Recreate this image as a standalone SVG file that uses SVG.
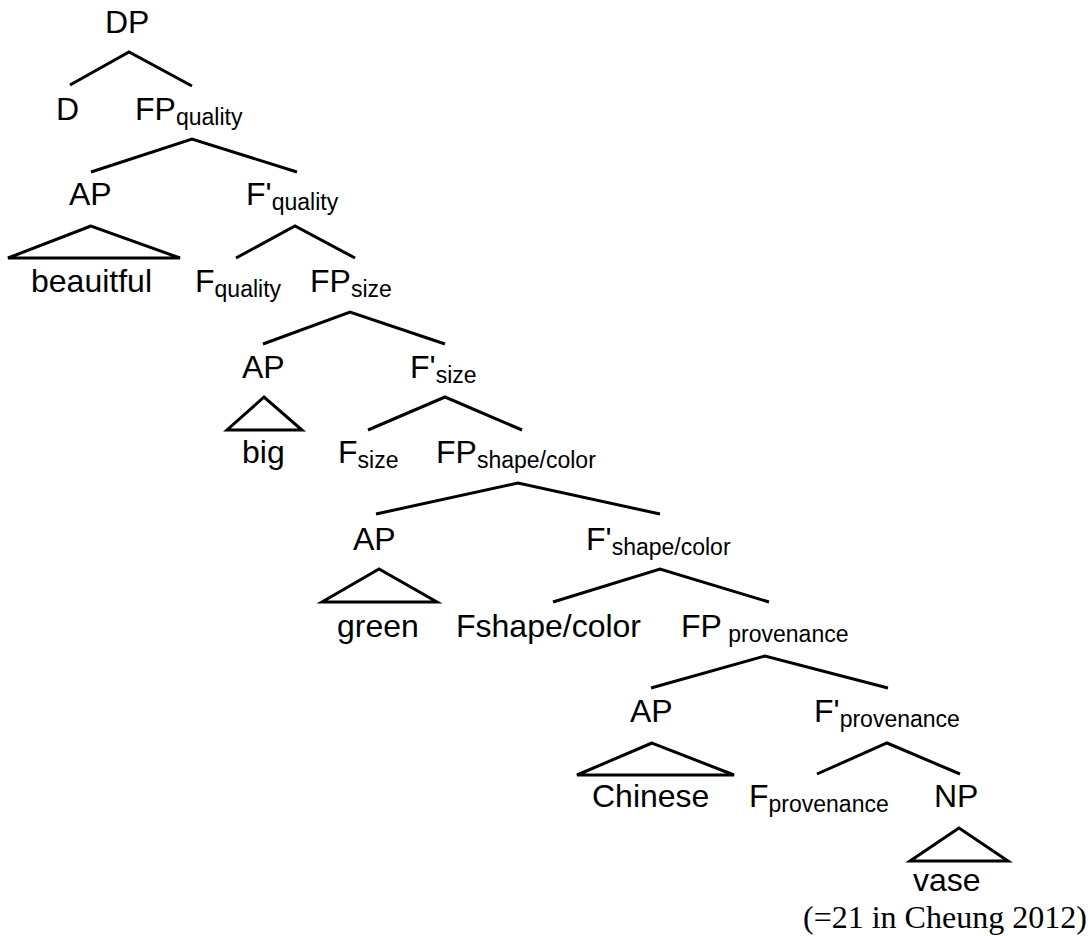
<svg xmlns="http://www.w3.org/2000/svg" width="1092" height="936" viewBox="0 0 1092 936">
<style>
.lbl{font-family:"Liberation Sans",Arial,sans-serif;font-size:32px;fill:#000}
.sub{font-size:23px}
.cite{font-family:"Liberation Serif","Times New Roman",serif;font-size:32px;fill:#000}
.edge{stroke:#000;stroke-width:3;fill:none;stroke-linecap:butt}
.tri{stroke:#000;stroke-width:3;fill:none;stroke-linejoin:miter}
</style>
<rect width="1092" height="936" fill="#fff"/>
<g id="connectors">
<path class="edge" d="M70,85 L129,52 L192,86"/>
<path class="edge" d="M91,172 L192,139 L297,172"/>
<path class="edge" d="M236,258 L295,226 L355,258"/>
<path class="edge" d="M263,344 L350,312 L445,344"/>
<path class="edge" d="M368,430 L445,397 L522,430"/>
<path class="edge" d="M376,514 L518,483 L660,514"/>
<path class="edge" d="M553,602 L660,569 L769,602"/>
<path class="edge" d="M651,688 L765,656 L888,688"/>
<path class="edge" d="M817,774 L887,743 L960,774"/>
</g>
<g id="n-DP"><text class="lbl" x="105" y="33">DP</text></g>
<g id="n-D"><text class="lbl" x="56" y="120">D</text></g>
<g id="n-FPquality"><text class="lbl" x="135" y="120">FP<tspan class="sub" dy="5">quality</tspan></text></g>
<g id="n-AP1"><text class="lbl" x="69" y="205">AP</text></g>
<g id="n-Fbarquality"><text class="lbl" x="246" y="205">F'<tspan class="sub" dy="5">quality</tspan></text></g>
<g id="n-beautiful"><polygon class="tri" points="91,226 8,258 180,258"/><text class="lbl" x="31" y="292">beauitful</text></g>
<g id="n-Fquality"><text class="lbl" x="195" y="292">F<tspan class="sub" dy="5">quality</tspan></text></g>
<g id="n-FPsize"><text class="lbl" x="310" y="292">FP<tspan class="sub" dy="5">size</tspan></text></g>
<g id="n-AP2"><text class="lbl" x="242" y="378">AP</text></g>
<g id="n-Fbarsize"><text class="lbl" x="410" y="378">F'<tspan class="sub" dy="5">size</tspan></text></g>
<g id="n-big"><polygon class="tri" points="264,397 227,430 302,430"/><text class="lbl" x="242" y="463">big</text></g>
<g id="n-Fsize"><text class="lbl" x="338" y="463">F<tspan class="sub" dy="5">size</tspan></text></g>
<g id="n-FPshape"><text class="lbl" x="436" y="463">FP<tspan class="sub" dy="5">shape/color</tspan></text></g>
<g id="n-AP3"><text class="lbl" x="353" y="550">AP</text></g>
<g id="n-Fbarshape"><text class="lbl" x="586" y="550">F'<tspan class="sub" dy="5">shape/color</tspan></text></g>
<g id="n-green"><polygon class="tri" points="379,569 322,602 437,602"/><text class="lbl" x="337" y="637">green</text></g>
<g id="n-Fshape"><text class="lbl" x="456" y="637">Fshape/color</text></g>
<g id="n-FPprov"><text class="lbl" x="681" y="637">FP<tspan class="sub" dy="5"> provenance</tspan></text></g>
<g id="n-AP4"><text class="lbl" x="630" y="722">AP</text></g>
<g id="n-Fbarprov"><text class="lbl" x="814" y="722">F'<tspan class="sub" dy="5">provenance</tspan></text></g>
<g id="n-Chinese"><polygon class="tri" points="652,743 577,775 734,775"/><text class="lbl" x="592" y="807">Chinese</text></g>
<g id="n-Fprov"><text class="lbl" x="749" y="807">F<tspan class="sub" dy="5">provenance</tspan></text></g>
<g id="n-NP"><text class="lbl" x="934" y="807">NP</text></g>
<g id="n-vase"><polygon class="tri" points="959,828 910,861 1008,861"/><text class="lbl" x="913" y="891">vase</text></g>
<g id="citation"><text class="cite" x="803" y="928">(=21 in Cheung 2012)</text></g>
</svg>
